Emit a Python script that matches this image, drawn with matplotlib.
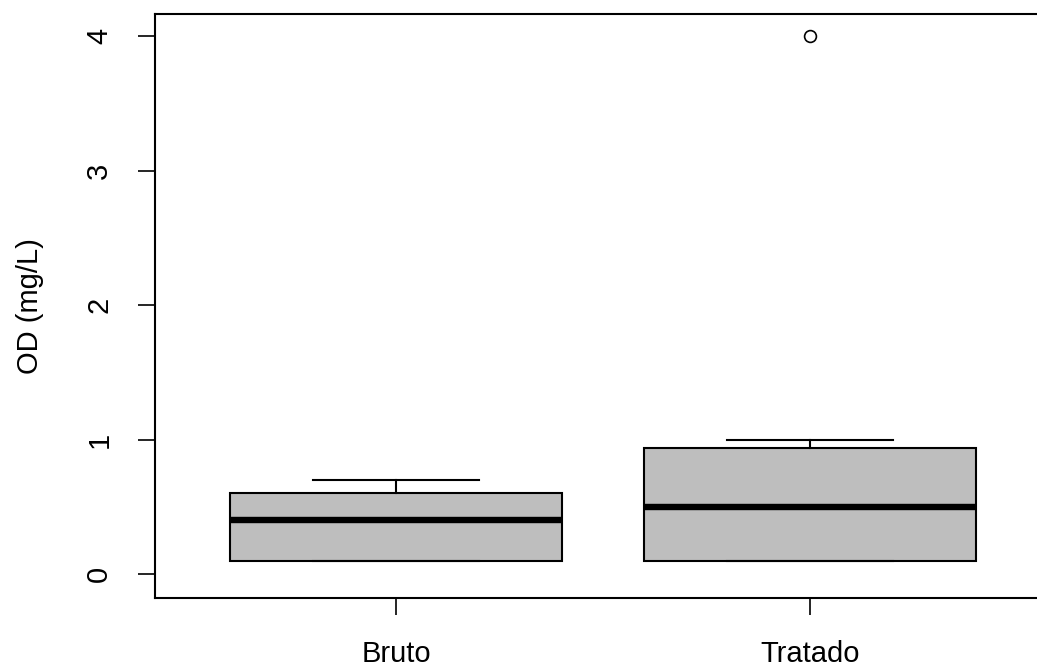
import matplotlib
matplotlib.use("Agg")
import matplotlib.pyplot as plt

# Summary statistics
groups = ["Bruto", "Tratado"]
q1 = [0.1, 0.1]
medians = [0.4, 0.5]
q3 = [0.6, 0.94]
whisk_lo = [0.1, 0.1]
whisk_hi = [0.7, 1.0]
outliers = [[], [4.0]]

plt.rcParams['font.family'] = ['Liberation Sans', 'DejaVu Sans']

fig = plt.figure(figsize=(10.37, 6.66), dpi=100)
W, H = 1037, 666
# plot region in pixels (the right border falls outside the image, as in the original)
left, right, top, bottom = 155, 1051, 14, 598
ax = fig.add_axes([left / W, 1 - bottom / H, (right - left) / W, (bottom - top) / H])

stats = []
for i, name in enumerate(groups):
    stats.append({
        "label": name, "q1": q1[i], "med": medians[i], "q3": q3[i],
        "whislo": whisk_lo[i], "whishi": whisk_hi[i], "fliers": outliers[i],
    })

ax.bxp(stats, positions=[1, 2], widths=0.8, patch_artist=True,
       boxprops=dict(facecolor="#bebebe", edgecolor="black", linewidth=1.5),
       medianprops=dict(color="black", linewidth=4.6, solid_capstyle="butt"),
       whiskerprops=dict(color="black", linewidth=1.5),
       capprops=dict(color="black", linewidth=1.5),
       capwidths=0.4,
       flierprops=dict(marker="o", markerfacecolor="none", markeredgecolor="black",
                       markersize=8.5, markeredgewidth=1.2))

ax.set_xlim(0.418, 2.582)
ax.set_ylim(-0.178, 4.164)
ax.set_yticks([0, 1, 2, 3, 4])
ax.set_yticklabels(["0", "1", "2", "3", "4"], rotation=90, va="center")
ax.set_xticks([1, 2])
ax.set_xticklabels(groups)
ax.tick_params(axis="both", direction="out", length=12, width=1.2, labelsize=21, pad=18)
ax.set_ylabel("OD (mg/L)", fontsize=21, labelpad=30)
for s in ax.spines.values():
    s.set_linewidth(1.5)

fig.savefig("out.png", dpi=100)
